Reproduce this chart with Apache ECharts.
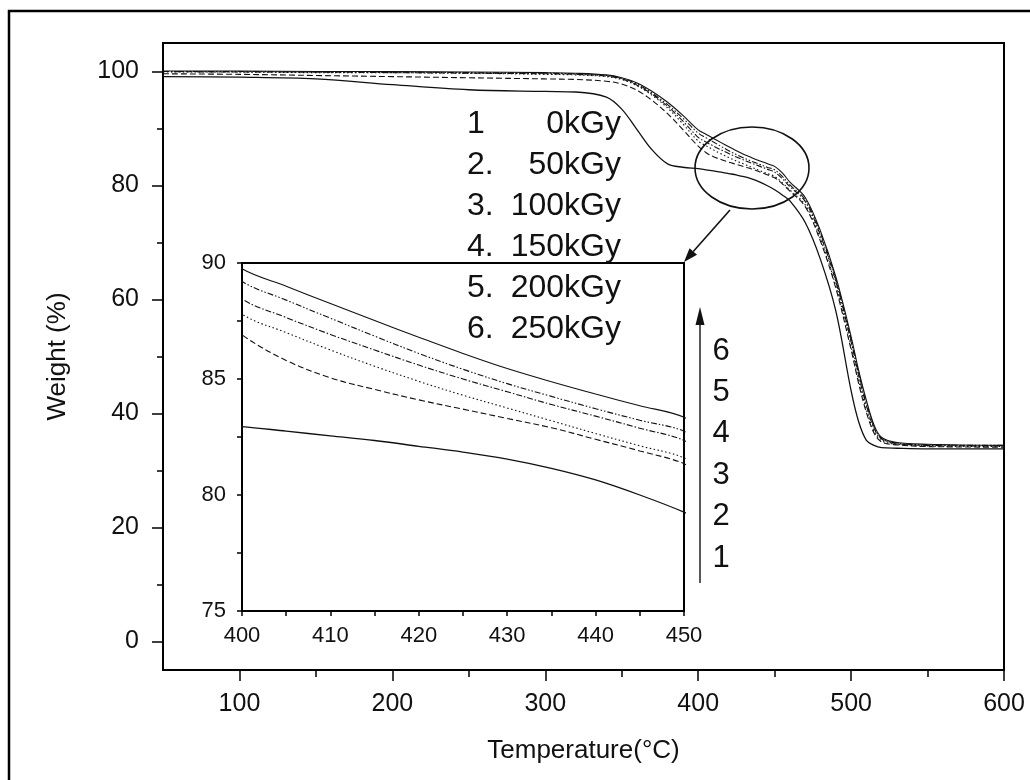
<!DOCTYPE html>
<html>
<head>
<meta charset="utf-8">
<script src="https://cdn.jsdelivr.net/npm/echarts@6/dist/echarts.min.js"></script>
<style>
html, body { margin: 0; padding: 0; background: #fff; }
#tga { width: 1030px; height: 780px; }
</style>
</head>
<body>
<div id="tga"></div>
<script>
// temperature grid (C) shared by all curves
var temps = [50, 100, 150, 200, 250, 300, 320, 340, 350, 360, 370, 380, 390,
    400, 405, 410, 415, 420, 425, 430, 435, 440, 445, 450, 455,
    460, 470, 480, 490, 500, 505, 510, 515, 520, 530, 550, 600];

// weight (%), one list per dose
var w0   = [99.1, 99.0, 98.7, 97.7, 96.8, 96.5, 96.4, 95.5, 93.4, 89.8, 86.2, 83.8, 83.2,
    82.95, 82.75, 82.55, 82.35, 82.1, 81.85, 81.55, 81.15, 80.65, 80.0, 79.26, 78.35,
    77.3, 73.5, 67.0, 58.0, 44.0, 38.5, 35.3, 34.4, 34.0, 33.9, 33.8, 33.8];
var w50  = [99.6, 99.5, 99.3, 99.1, 98.9, 98.7, 98.6, 98.3, 97.8, 96.7, 94.9, 92.6, 89.8,
    86.9, 85.8, 85.05, 84.55, 84.1, 83.7, 83.3, 82.9, 82.4, 81.9, 81.35, 80.3,
    79.0, 76.3, 70.2, 62.0, 51.2, 45.2, 40.2, 36.6, 35.0, 34.5, 34.2, 34.1];
var w100 = [99.9, 99.9, 99.8, 99.8, 99.7, 99.5, 99.4, 99.1, 98.6, 97.5, 95.8, 93.6, 90.8,
    87.8, 87.0, 86.25, 85.55, 84.9, 84.3, 83.75, 83.2, 82.65, 82.12, 81.6, 80.5,
    79.2, 76.6, 70.6, 62.4, 51.8, 45.8, 40.7, 36.9, 35.2, 34.6, 34.3, 34.2];
var w150 = [100.0, 99.9, 99.9, 99.8, 99.7, 99.6, 99.5, 99.2, 98.7, 97.6, 96.0, 93.9, 91.3,
    88.45, 87.65, 86.92, 86.25, 85.6, 85.0, 84.45, 83.9, 83.4, 82.88, 82.35, 81.2,
    79.8, 77.2, 71.2, 63.2, 52.6, 46.6, 41.4, 37.4, 35.5, 34.7, 34.4, 34.3];
var w200 = [100.0, 100.0, 99.9, 99.9, 99.8, 99.7, 99.6, 99.3, 98.8, 97.8, 96.2, 94.2, 91.8,
    89.2, 88.4, 87.62, 86.85, 86.1, 85.42, 84.8, 84.25, 83.72, 83.22, 82.75, 81.6,
    80.1, 77.5, 71.6, 63.6, 53.0, 47.0, 41.8, 37.7, 35.6, 34.8, 34.5, 34.4];
var w250 = [100.1, 100.1, 100.0, 100.0, 99.9, 99.8, 99.7, 99.4, 98.9, 98.0, 96.5, 94.6, 92.3,
    89.75, 89.0, 88.25, 87.52, 86.8, 86.1, 85.45, 84.88, 84.35, 83.85, 83.35, 82.2,
    80.6, 77.9, 72.0, 64.0, 53.5, 47.5, 42.3, 38.0, 35.8, 34.9, 34.6, 34.4];

var doseNums  = ['1', '2.', '3.', '4.', '5.', '6.'];
var doseNames = ['0kGy', '50kGy', '100kGy', '150kGy', '200kGy', '250kGy'];
var curveNums = ['1', '2', '3', '4', '5', '6'];

var xMajor = [100, 200, 300, 400, 500, 600];
var xMinor = [150, 250, 350, 450, 550];
var yMajor = [0, 20, 40, 60, 80, 100];
var yMinor = [10, 30, 50, 70, 90];

var weights = [w0, w50, w100, w150, w200, w250];
var dashes = ['solid', [6, 3], [1.5, 2.5], [6, 2, 1.5, 2], [6, 2, 1.5, 2, 1.5, 2], 'solid'];

var FONT = '"Liberation Sans", Arial, sans-serif';
var INK = '#111';

var myChart = echarts.init(document.getElementById('tga'));

function pairs(w) {
    return temps.map(function (t, i) { return [t, w[i]]; });
}

var series = [];
weights.forEach(function (w, i) {
    var ls = { color: INK, width: i === 0 ? 1.3 : 1.1, type: dashes[i] };
    // main plot
    series.push({
        type: 'line', name: doseNames[i], data: pairs(w),
        xAxisIndex: 0, yAxisIndex: 0,
        showSymbol: false, smooth: 0.35,
        lineStyle: ls, silent: true
    });
    // inset (zoom 400-450)
    series.push({
        type: 'line', name: doseNames[i] + ' inset', data: pairs(w),
        xAxisIndex: 2, yAxisIndex: 2,
        showSymbol: false, smooth: 0.35, clip: true,
        lineStyle: ls, silent: true, z: 5
    });
});

// annotation pieces
var graphics = [
    { type: 'rect', silent: true, z: 0,
      shape: { x: 9, y: 11, width: 1200, height: 900 },
      style: { fill: 'none', stroke: '#000', lineWidth: 2.5 } },
    { type: 'ellipse', silent: true, z: 100,
      shape: { cx: 752, cy: 168, rx: 57, ry: 41 },
      style: { fill: 'none', stroke: INK, lineWidth: 1.6 } }
];

// pointer from the ellipse to the inset corner
(function () {
    var x1 = 730, y1 = 210, tx = 684, ty = 262;
    var dx = tx - x1, dy = ty - y1, len = Math.sqrt(dx * dx + dy * dy);
    var ux = dx / len, uy = dy / len, bx = tx - 14 * ux, by = ty - 14 * uy;
    graphics.push({ type: 'line', silent: true, z: 100,
        shape: { x1: x1, y1: y1, x2: bx, y2: by },
        style: { stroke: INK, lineWidth: 1.6 } });
    graphics.push({ type: 'polygon', silent: true, z: 100,
        shape: { points: [[tx, ty], [bx - 5 * uy, by + 5 * ux], [bx + 5 * uy, by - 5 * ux]] },
        style: { fill: INK } });
})();

// vertical order arrow next to the inset
graphics.push({ type: 'line', silent: true, z: 100,
    shape: { x1: 700, y1: 583, x2: 700, y2: 322 },
    style: { stroke: INK, lineWidth: 1.4 } });
graphics.push({ type: 'polygon', silent: true, z: 100,
    shape: { points: [[700, 307], [695.5, 325], [704.5, 325]] },
    style: { fill: INK } });

doseNums.forEach(function (n, i) {
    graphics.push({ type: 'text', silent: true, z: 100, x: 467, y: 124 + i * 41,
        style: { text: n, font: '32px ' + FONT, fill: INK,
                 align: 'left', verticalAlign: 'middle' } });
    graphics.push({ type: 'text', silent: true, z: 100, x: 621, y: 124 + i * 41,
        style: { text: doseNames[i], font: '32px ' + FONT, fill: INK,
                 align: 'right', verticalAlign: 'middle' } });
});
curveNums.forEach(function (n, i) {
    graphics.push({ type: 'text', silent: true, z: 100, x: 721, y: 558 - i * 41.4,
        style: { text: n, font: '31px ' + FONT, fill: INK,
                 align: 'center', verticalAlign: 'middle' } });
});

var axisLine = { show: true, onZero: false, lineStyle: { color: '#000', width: 2 } };
var tickStyle = { color: '#000', width: 1.5 };
var labelMain = { color: INK, fontSize: 25, fontFamily: FONT };
var labelInset = { color: INK, fontSize: 22, fontFamily: FONT };

myChart.setOption({
    animation: false,
    backgroundColor: '#fff',
    grid: [
        { left: 163, top: 43, right: 26, bottom: 110, show: true,
          borderColor: '#000', borderWidth: 2, backgroundColor: 'transparent' },
        { left: 242, top: 263, right: 346, bottom: 169, show: true, z: 4,
          borderColor: '#000', borderWidth: 2, backgroundColor: '#fff' }
    ],
    xAxis: [
        { gridIndex: 0, type: 'value', min: 50, max: 600, position: 'bottom',
          axisLine: axisLine,
          axisTick: { show: true, customValues: xMajor, length: 11, lineStyle: tickStyle },
          axisLabel: Object.assign({ customValues: xMajor, margin: 22 }, labelMain),
          splitLine: { show: false },
          name: 'Temperature(°C)', nameLocation: 'middle', nameGap: 68,
          nameTextStyle: { color: INK, fontSize: 26, fontFamily: FONT } },
        { gridIndex: 0, type: 'value', min: 50, max: 600, position: 'bottom',
          axisLine: { show: false, onZero: false },
          axisTick: { show: true, customValues: xMinor, length: 7, lineStyle: tickStyle },
          axisLabel: { show: false }, splitLine: { show: false } },
        { gridIndex: 1, type: 'value', min: 400, max: 450, interval: 5,
          axisLine: axisLine,
          axisTick: { show: true, length: 5, lineStyle: tickStyle },
          axisLabel: Object.assign({ margin: 14,
              formatter: function (v) { return v % 10 === 0 ? String(v) : ''; } }, labelInset),
          splitLine: { show: false } }
    ],
    yAxis: [
        { gridIndex: 0, type: 'value', min: -5, max: 105, position: 'left',
          axisLine: axisLine,
          axisTick: { show: true, customValues: yMajor, length: 11, lineStyle: tickStyle },
          axisLabel: Object.assign({ customValues: yMajor, margin: 24 }, labelMain),
          splitLine: { show: false },
          name: 'Weight (%)', nameLocation: 'middle', nameGap: 92, nameRotate: 90,
          nameTextStyle: { color: INK, fontSize: 26, fontFamily: FONT } },
        { gridIndex: 0, type: 'value', min: -5, max: 105, position: 'left',
          axisLine: { show: false, onZero: false },
          axisTick: { show: true, customValues: yMinor, length: 6, lineStyle: tickStyle },
          axisLabel: { show: false }, splitLine: { show: false } },
        { gridIndex: 1, type: 'value', min: 75, max: 90, interval: 2.5,
          axisLine: axisLine,
          axisTick: { show: true, length: 5, lineStyle: tickStyle },
          axisLabel: Object.assign({ margin: 16,
              formatter: function (v) { return v % 5 === 0 ? String(v) : ''; } }, labelInset),
          splitLine: { show: false } }
    ],
    graphic: graphics,
    series: series
});

window.addEventListener('resize', function () { myChart.resize(); });
</script>
</body>
</html>
